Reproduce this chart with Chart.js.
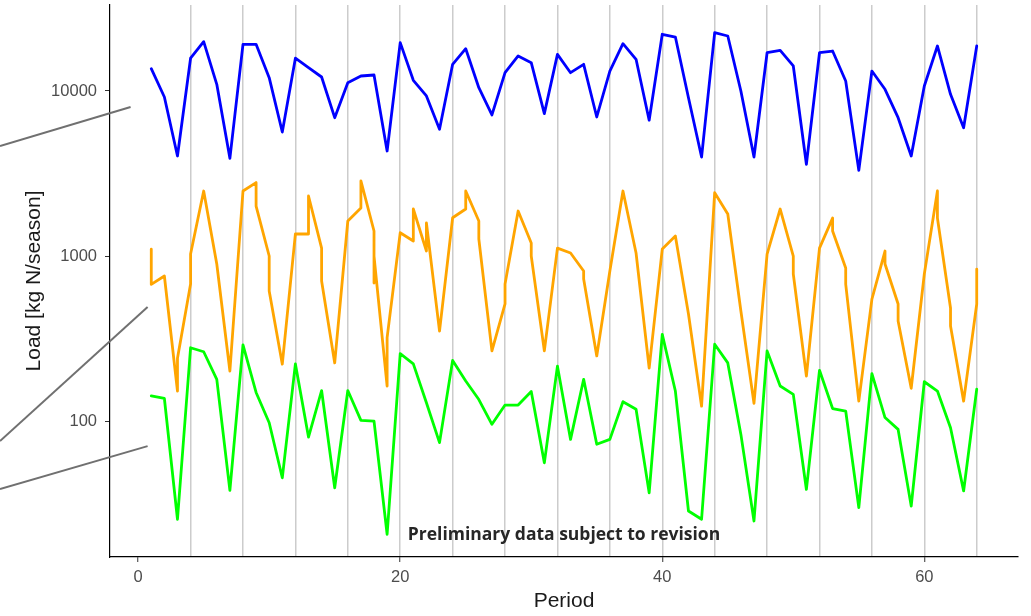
<!DOCTYPE html>
<html>
<head>
<meta charset="utf-8">
<script src="https://cdn.jsdelivr.net/npm/chart.js@4.4.1/dist/chart.umd.min.js"></script>
<style>
  html, body { margin: 0; padding: 0; background: #ffffff; }
  #wrap { width: 1031px; height: 616px; position: relative; }
  canvas { display: block; }
</style>
</head>
<body>
<div id="wrap"><canvas id="c" width="1031" height="616"></canvas></div>
<script>
// ---- data ----
const periods = [1,2,3,4,5,6,7,8,9,10,11,12,13,14,15,16,17,18,19,20,21,22,23,24,25,26,27,28,29,30,31,32,
                 33,34,35,36,37,38,39,40,41,42,43,44,45,46,47,48,49,50,51,52,53,54,55,56,57,58,59,60,61,62,63,64];

const blueLoad = [13650,9200,4040,15800,19900,10980,3910,19190,19190,12040,5640,15800,13840,12160,6890,11230,
                  12330,12500,4330,19630,11610,9330,5860,14510,18040,10470,7160,12910,16300,14850,7290,16680,
                  12910,14510,6960,13210,19360,15560,6650,22070,21240,9110,3980,22560,21540,10000,3980,17060,
                  17650,14180,3597,17060,17470,11490,3305,13210,10240,6890,4040,10720,18740,9550,5990,18740];

const greenLoad = [142,137,25.4,278,263,179,38.0,289,149,97.7,45.3,222,80,153,39.4,153,
                   101,100,20.6,256,222,129,74,233,175,135,95.5,125,125,151,55.8,215,
                   77.4,179,72.3,77.4,131,118,36.7,335,152,28.5,25.4,292,225,83,24.8,266,
                   163,145,38.5,203,119,115,29.9,194,105,89,30.5,173,152,91,37.7,156];

const orangePeriods = [1,1,2,3,3,4,4,5,6,7,8,9,9,10,10,11,12,13,13,14,14,15,16,17,17,18,18,18,19,19,20,21,21,22,22,
                       23,24,25,25,26,26,27,28,28,29,30,30,31,32,33,34,34,35,36,37,38,39,40,41,42,43,44,45,46,47,48,
                       49,50,50,51,52,53,53,54,54,55,56,57,57,58,58,59,60,61,61,62,62,63,64,64];
const orangeLoad = [1099,673,757,152,240,676,1028,2477,895,201,2477,2782,2009,1000,614,221,1360,1360,2311,1117,705,
                    225,1630,1954,2850,1418,686,1000,163,320,1384,1233,1927,1072,1585,351,1706,1927,2477,1630,1268,
                    266,512,676,1874,1198,1000,266,1117,1043,811,726,248,811,2477,1043,209,1102,1322,445,123,2419,
                    1798,464,128,1028,1927,1000,778,187,1117,1698,1418,846,676,132,548,1072,895,512,404,158,778,
                    2477,1698,484,377,132,512,834];

const xGridTicks = [0,4,8,12,16,20,24,28,32,36,40,44,48,52,56,60,64];
const xLabelTicks = [0,20,40,60];
const yLabelTicks = [100,1000,10000];

// callout strokes on the left margin, in data units [x0, y0, x1, y1]
const callouts = [
  [-10.58, 4640, -0.58, 8000],
  [-10.58, 75.7, 0.72, 491],
  [-10.58, 38.7, 0.72, 70.5]
];
const noteText = 'Preliminary data subject to revision';

// ---- build datasets ----
function pairs(xs, ys) {
  const n = Math.min(xs.length, ys.length);
  const out = [];
  for (let i = 0; i < n; i++) out.push({x: xs[i], y: ys[i]});
  return out;
}

const lineStyle = {
  borderWidth: 2.8,
  pointRadius: 0,
  pointHoverRadius: 0,
  tension: 0,
  fill: false,
  borderJoinStyle: 'round',
  borderCapStyle: 'round'
};

const decor = {
  id: 'decor',
  afterDraw(chart) {
    const ctx = chart.ctx;
    const xs = chart.scales.x, ys = chart.scales.y;
    const a = chart.chartArea;
    ctx.save();
    ctx.strokeStyle = '#707070';
    ctx.lineWidth = 2;
    ctx.lineCap = 'butt';
    callouts.forEach(c => {
      ctx.beginPath();
      ctx.moveTo(Math.max(0, xs.getPixelForValue(c[0])), ys.getPixelForValue(c[1]));
      ctx.lineTo(xs.getPixelForValue(c[2]), ys.getPixelForValue(c[3]));
      ctx.stroke();
    });
    ctx.fillStyle = '#262626';
    ctx.font = 'bold 17.5px "Open Sans", "DejaVu Sans", sans-serif';
    ctx.textAlign = 'center';
    ctx.textBaseline = 'middle';
    ctx.fillText(noteText, (a.left + a.right) / 2, a.bottom - 22);
    ctx.restore();
  }
};

Chart.defaults.font.family = '"Liberation Sans", Arial, sans-serif';

new Chart(document.getElementById('c'), {
  type: 'line',
  data: {
    datasets: [
      Object.assign({label: 'blue', data: pairs(periods, blueLoad), borderColor: '#0000FF'}, lineStyle),
      Object.assign({label: 'orange', data: pairs(orangePeriods, orangeLoad), borderColor: '#FFA500'}, lineStyle),
      Object.assign({label: 'green', data: pairs(periods, greenLoad), borderColor: '#00FF00'}, lineStyle)
    ]
  },
  options: {
    responsive: false,
    animation: false,
    events: [],
    layout: { padding: { left: 0, right: 13, top: 5, bottom: 0 } },
    plugins: { legend: { display: false }, tooltip: { enabled: false } },
    scales: {
      x: {
        type: 'linear',
        min: -2.15,
        max: 67.15,
        afterBuildTicks: s => { s.ticks = xGridTicks.map(v => ({value: v})); },
        afterFit: s => { s.height = 59; s.paddingLeft = 0; s.paddingRight = 0; },
        ticks: {
          autoSkip: false,
          maxRotation: 0,
          padding: 6,
          color: '#4d4d4d',
          font: { size: 16.5 },
          callback: v => xLabelTicks.includes(v) ? String(v) : ''
        },
        grid: {
          color: c => (c.tick && c.tick.value > 0) ? '#cccccc' : 'rgba(0,0,0,0)',
          lineWidth: 1.5,
          drawTicks: true,
          tickLength: 5,
          tickColor: c => (c.tick && xLabelTicks.includes(c.tick.value)) ? '#333333' : 'rgba(0,0,0,0)',
          tickWidth: 1
        },
        border: { display: true, color: '#000000', width: 1.2 },
        title: { display: true, text: 'Period', color: '#1a1a1a', font: { size: 21 }, padding: { top: 0, bottom: 2 } }
      },
      y: {
        type: 'logarithmic',
        min: 15,
        max: 33200,
        afterBuildTicks: s => { s.ticks = yLabelTicks.map(v => ({value: v})); },
        afterFit: s => { s.width = 110; s.paddingTop = 0; s.paddingBottom = 0; },
        ticks: {
          autoSkip: false,
          padding: 8,
          color: '#4d4d4d',
          font: { size: 16.5 },
          callback: v => String(v)
        },
        grid: {
          drawOnChartArea: false,
          drawTicks: true,
          tickLength: 5,
          tickColor: '#333333',
          tickWidth: 1
        },
        border: { display: true, color: '#000000', width: 1.2 },
        title: { display: true, text: 'Load [kg N/season]', color: '#1a1a1a', font: { size: 21 }, padding: { top: 22, bottom: 0 } }
      }
    }
  },
  plugins: [decor]
});
</script>
</body>
</html>
